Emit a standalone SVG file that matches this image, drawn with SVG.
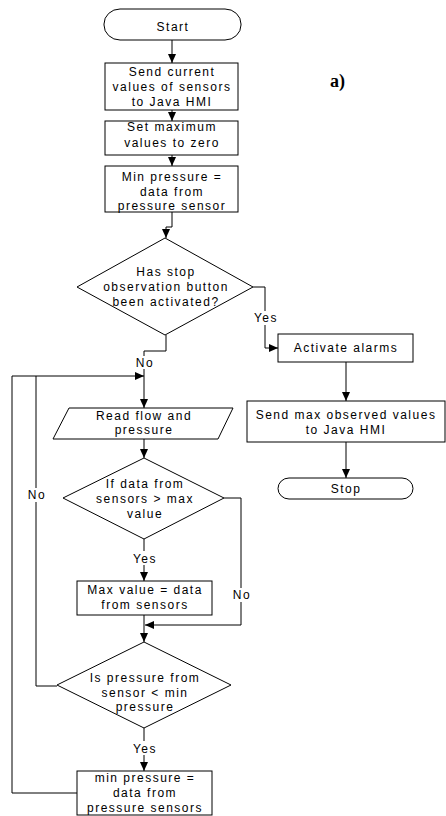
<svg xmlns="http://www.w3.org/2000/svg" width="446" height="816" viewBox="0 0 446 816">
  <style>
    .shape { fill: #fff; stroke: #000; stroke-width: 1; }
    .t { font-family: "Liberation Sans", Arial, sans-serif; font-size: 12px; letter-spacing: 1.5px; fill: #000; text-anchor: middle; }
    .wire { fill: none; stroke: #000; stroke-width: 1; }
    .bg { fill: #fff; stroke: none; }
    .tag { font-family: "Liberation Serif", "Times New Roman", serif; font-size: 18px; font-weight: bold; fill: #000; }
  </style>
  <defs>
    <marker id="arrow" markerUnits="userSpaceOnUse" markerWidth="9" markerHeight="8" refX="9" refY="4" orient="auto">
      <path d="M0,0 L9,4 L0,8 z" fill="#000"/>
    </marker>
  </defs>
  <rect width="446" height="816" fill="#fff"/>

  <!-- connectors -->
  <g id="connectors">
    <path class="wire" d="M172,40 V63" marker-end="url(#arrow)"/>
    <path class="wire" d="M172,110 V121" marker-end="url(#arrow)"/>
    <path class="wire" d="M172,155 V166" marker-end="url(#arrow)"/>
    <path class="wire" d="M172,212 V227 H166 V238" marker-end="url(#arrow)"/>
    <!-- stop button: yes -->
    <path class="wire" d="M253,287 H265 V348 H278" marker-end="url(#arrow)"/>
    <!-- stop button: no -->
    <path class="wire" d="M166,335 V351 H144 V408" marker-end="url(#arrow)"/>
    <!-- loop returns -->
    <path class="wire" d="M77,793 H12 V376 H144" marker-end="url(#arrow)"/>
    <path class="wire" d="M57,686 H36 V376"/>
    <path class="wire" d="M144,439 V458" marker-end="url(#arrow)"/>
    <path class="wire" d="M144,539 V581" marker-end="url(#arrow)"/>
    <path class="wire" d="M224,498 H241 V625 H145" marker-end="url(#arrow)"/>
    <path class="wire" d="M144,615 V642" marker-end="url(#arrow)"/>
    <path class="wire" d="M144,728 V771" marker-end="url(#arrow)"/>
    <path class="wire" d="M346,362 V401" marker-end="url(#arrow)"/>
    <path class="wire" d="M346,442 V478" marker-end="url(#arrow)"/>

    <!-- branch labels -->
    <rect class="bg" x="253" y="311" width="25" height="14"/>
    <text class="t" x="266" y="322">Yes</text>
    <rect class="bg" x="133" y="356" width="22" height="13"/>
    <text class="t" x="145" y="367">No</text>
    <rect class="bg" x="25" y="488" width="22" height="14"/>
    <text class="t" x="37" y="499">No</text>
    <rect class="bg" x="131" y="551" width="26" height="14"/>
    <text class="t" x="145" y="563">Yes</text>
    <rect class="bg" x="230" y="588" width="22" height="14"/>
    <text class="t" x="242" y="599">No</text>
    <rect class="bg" x="131" y="741" width="26" height="14"/>
    <text class="t" x="145" y="753">Yes</text>
  </g>

  <g id="start">
    <rect class="shape" x="104" y="9" width="137" height="31" rx="16" ry="15"/>
    <text class="t" x="173" y="31">Start</text>
  </g>

  <g id="send-current">
    <rect class="shape" x="105" y="63" width="133" height="47"/>
    <text class="t" x="172" y="76">Send current</text>
    <text class="t" x="172" y="91">values of sensors</text>
    <text class="t" x="172" y="106">to Java HMI</text>
  </g>

  <g id="set-max-zero">
    <rect class="shape" x="105" y="121" width="133" height="34"/>
    <text class="t" x="172" y="131">Set maximum</text>
    <text class="t" x="172" y="147">values to zero</text>
  </g>

  <g id="init-min-pressure">
    <rect class="shape" x="105" y="166" width="133" height="46"/>
    <text class="t" x="172" y="181">Min pressure =</text>
    <text class="t" x="172" y="196">data from</text>
    <text class="t" x="172" y="210">pressure sensor</text>
  </g>

  <g id="stop-pressed">
    <polygon class="shape" points="165,238 253,287 165,335 77,287"/>
    <text class="t" x="166" y="276">Has stop</text>
    <text class="t" x="166" y="291">observation button</text>
    <text class="t" x="166" y="306">been activated?</text>
  </g>

  <g id="activate-alarms">
    <rect class="shape" x="278" y="334" width="135" height="28"/>
    <text class="t" x="346" y="352">Activate alarms</text>
  </g>

  <g id="send-max">
    <rect class="shape" x="247" y="401" width="198" height="41"/>
    <text class="t" x="346" y="419">Send max observed values</text>
    <text class="t" x="346" y="434">to Java HMI</text>
  </g>

  <g id="stop">
    <rect class="shape" x="278" y="478" width="135" height="21" rx="11" ry="10.5"/>
    <text class="t" x="346" y="493">Stop</text>
  </g>

  <g id="read-flow">
    <polygon class="shape" points="69,408 233,408 218,439 53,439"/>
    <text class="t" x="144" y="420">Read flow and</text>
    <text class="t" x="144" y="434">pressure</text>
  </g>

  <g id="above-max">
    <polygon class="shape" points="144,458 224,498 144,539 63,498"/>
    <text class="t" x="145" y="488">If data from</text>
    <text class="t" x="145" y="503">sensors &gt; max</text>
    <text class="t" x="145" y="518">value</text>
  </g>

  <g id="update-max">
    <rect class="shape" x="77" y="581" width="135" height="34"/>
    <text class="t" x="145" y="594">Max value = data</text>
    <text class="t" x="145" y="609">from sensors</text>
  </g>

  <g id="below-min">
    <polygon class="shape" points="144,642 231,685 144,728 57,685"/>
    <text class="t" x="145" y="682">Is pressure from</text>
    <text class="t" x="145" y="697">sensor &lt; min</text>
    <text class="t" x="145" y="711">pressure</text>
  </g>

  <g id="update-min">
    <rect class="shape" x="77" y="771" width="135" height="44"/>
    <text class="t" x="145" y="782">min pressure =</text>
    <text class="t" x="145" y="797">data from</text>
    <text class="t" x="145" y="812">pressure sensors</text>
  </g>

  <text class="tag" x="330" y="87">a)</text>
</svg>
